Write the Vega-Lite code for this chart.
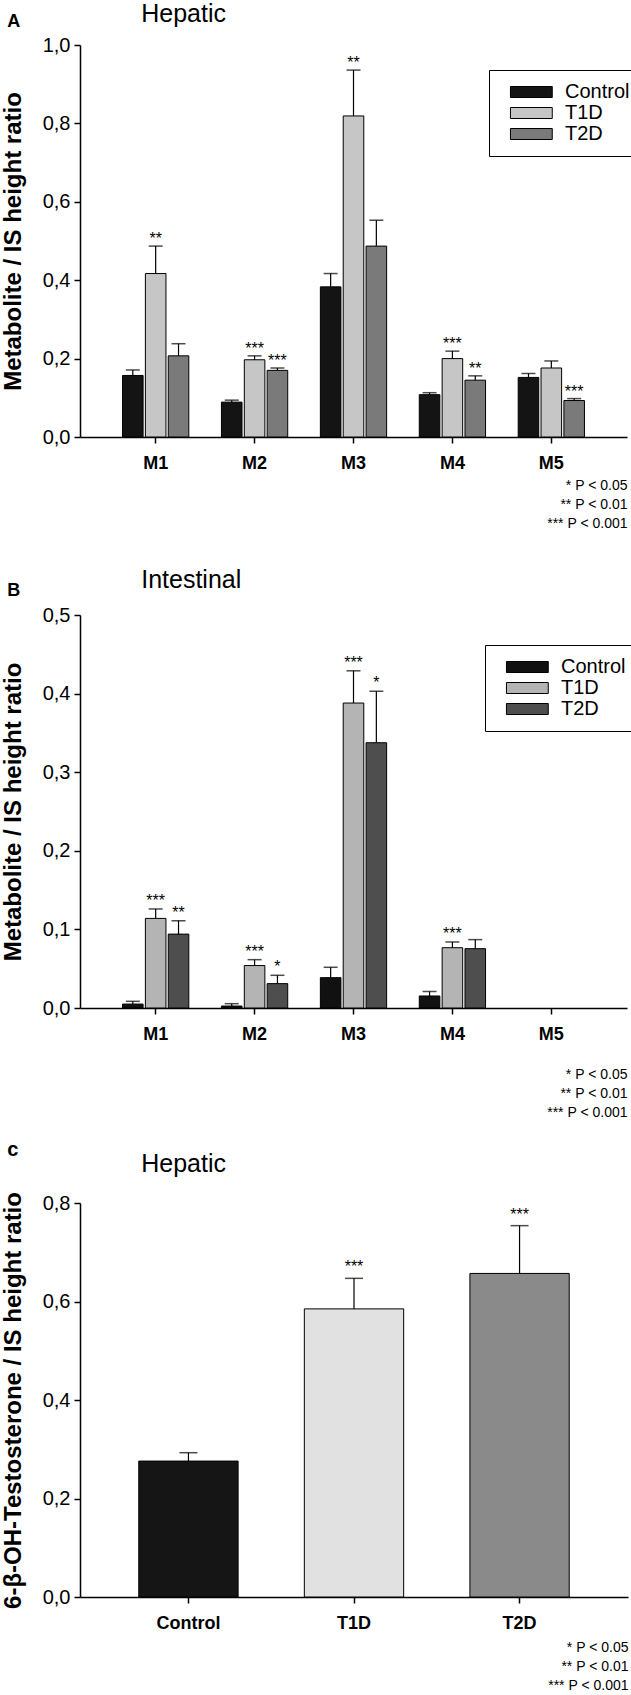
{
  "$schema": "https://vega.github.io/schema/vega-lite/v6.json",
  "background": "white",
  "padding": {"left": 1, "top": 2, "right": 0, "bottom": 0},
  "autosize": {"type": "pad"},
  "spacing": 20,
  "config": {
    "view": {"stroke": null},
    "font": "Liberation Sans",
    "axis": {"domainColor": "black", "domainWidth": 1.5, "tickColor": "black", "tickWidth": 1.5, "tickSize": 6, "labelColor": "black", "titleColor": "black", "grid": false, "labelFont": "Liberation Sans", "titleFont": "Liberation Sans"},
    "legend": {"labelFont": "Liberation Sans"},
    "title": {"anchor": "start", "frame": "bounds", "font": "Liberation Sans", "color": "black"}
  },
  "resolve": {"scale": {"x": "independent", "y": "independent", "fill": "independent", "xOffset": "independent"}, "legend": {"fill": "independent"}},
  "vconcat": [
    {
      "spacing": 38,
      "resolve": {"scale": {"x": "independent", "y": "independent", "fill": "independent", "xOffset": "independent"}, "legend": {"fill": "independent"}},
      "vconcat": [
        {
          "title": {"text": "A", "fontSize": 18, "fontWeight": "bold", "offset": -29, "dx": 6},
          "resolve": {"scale": {"x": "independent", "y": "independent", "fill": "independent", "xOffset": "independent"}, "legend": {"fill": "independent"}},
          "vconcat": [
            {
              "width": 547, "height": 392,
              "title": {"text": "Hepatic", "fontSize": 25, "fontWeight": "normal", "dx": 140, "offset": 8},
              "data": {"values": [
                {"metabolite": "M1", "group": "Control", "mean": 0.157, "upper": 0.171, "sig": ""},
                {"metabolite": "M1", "group": "T1D", "mean": 0.417, "upper": 0.487, "sig": "**"},
                {"metabolite": "M1", "group": "T2D", "mean": 0.207, "upper": 0.238, "sig": ""},
                {"metabolite": "M2", "group": "Control", "mean": 0.089, "upper": 0.094, "sig": ""},
                {"metabolite": "M2", "group": "T1D", "mean": 0.197, "upper": 0.207, "sig": "***"},
                {"metabolite": "M2", "group": "T2D", "mean": 0.170, "upper": 0.176, "sig": "***"},
                {"metabolite": "M3", "group": "Control", "mean": 0.383, "upper": 0.417, "sig": ""},
                {"metabolite": "M3", "group": "T1D", "mean": 0.819, "upper": 0.936, "sig": "**"},
                {"metabolite": "M3", "group": "T2D", "mean": 0.487, "upper": 0.553, "sig": ""},
                {"metabolite": "M4", "group": "Control", "mean": 0.108, "upper": 0.113, "sig": ""},
                {"metabolite": "M4", "group": "T1D", "mean": 0.200, "upper": 0.219, "sig": "***"},
                {"metabolite": "M4", "group": "T2D", "mean": 0.145, "upper": 0.156, "sig": "**"},
                {"metabolite": "M5", "group": "Control", "mean": 0.152, "upper": 0.162, "sig": ""},
                {"metabolite": "M5", "group": "T1D", "mean": 0.176, "upper": 0.194, "sig": ""},
                {"metabolite": "M5", "group": "T2D", "mean": 0.093, "upper": 0.098, "sig": "***"}
              ]},
              "encoding": {
                "x": {"field": "metabolite", "type": "nominal", "scale": {"domain": ["M1", "M2", "M3", "M4", "M5"], "paddingInner": 0.33, "paddingOuter": 0.43},
                      "axis": {"labelAngle": 0, "labelFontSize": 18, "labelFontWeight": "bold", "labelPadding": 11,
                               "title": ["* P < 0.05", "** P < 0.01", "*** P < 0.001"], "titleAnchor": "end", "titleAlign": "right", "titleFontSize": 14, "titleFontWeight": "normal", "titleLineHeight": 19, "titlePadding": 6}},
                "xOffset": {"field": "group", "type": "nominal", "scale": {"domain": ["Control", "T1D", "T2D"], "paddingInner": 0.1}},
                "y": {"field": "mean", "type": "quantitative", "scale": {"domain": [0, 1]},
                      "axis": {"values": [0, 0.2, 0.4, 0.6, 0.8, 1.0], "labelExpr": "replace(format(datum.value, '.1f'), '.', ',')", "labelFontSize": 20, "labelPadding": 4, "titleFontSize": 24, "titleFontWeight": "bold", "titlePadding": 17},
                      "title": "Metabolite / IS height ratio"}
              },
              "layer": [
                {"mark": {"type": "bar", "stroke": "black", "strokeWidth": 1},
                 "encoding": {
                   "fill": {"field": "group", "type": "nominal", "scale": {"domain": ["Control", "T1D", "T2D"], "range": ["#141414", "#c6c6c6", "#7a7a7a"]},
                            "legend": {"orient": "none", "legendX": 409, "legendY": 25, "title": null, "symbolType": "M-0.1,-1L7.5,-1L7.5,1L-0.1,1Z", "symbolSize": 121, "symbolStrokeColor": "black", "symbolStrokeWidth": 1, "labelFontSize": 20, "labelColor": "black", "labelOffset": 44, "strokeColor": "black", "padding": 12, "rowPadding": 1}}
                 }},
                {"mark": {"type": "rule", "color": "black", "strokeWidth": 1.2},
                 "encoding": {"y2": {"field": "upper"}}},
                {"mark": {"type": "tick", "color": "black", "thickness": 1.5, "size": 14},
                 "encoding": {"y": {"field": "upper", "type": "quantitative", "title": "Metabolite / IS height ratio"}}},
                {"mark": {"type": "text", "baseline": "alphabetic", "dy": -2, "fontSize": 16, "color": "black"},
                 "encoding": {"y": {"field": "upper", "type": "quantitative", "title": "Metabolite / IS height ratio"}, "text": {"field": "sig"}}}
              ]
            }
          ]
        },
        {
          "title": {"text": "B", "fontSize": 18, "fontWeight": "bold", "offset": -32, "dx": 6},
          "resolve": {"scale": {"x": "independent", "y": "independent", "fill": "independent", "xOffset": "independent"}, "legend": {"fill": "independent"}},
          "vconcat": [
            {
              "width": 547, "height": 393,
              "title": {"text": "Intestinal", "fontSize": 25, "fontWeight": "normal", "dx": 140, "offset": 12},
              "data": {"values": [
                {"metabolite": "M1", "group": "Control", "mean": 0.005, "upper": 0.0085, "sig": ""},
                {"metabolite": "M1", "group": "T1D", "mean": 0.114, "upper": 0.126, "sig": "***"},
                {"metabolite": "M1", "group": "T2D", "mean": 0.094, "upper": 0.111, "sig": "**"},
                {"metabolite": "M2", "group": "Control", "mean": 0.0025, "upper": 0.0055, "sig": ""},
                {"metabolite": "M2", "group": "T1D", "mean": 0.054, "upper": 0.0615, "sig": "***"},
                {"metabolite": "M2", "group": "T2D", "mean": 0.031, "upper": 0.0416, "sig": "*"},
                {"metabolite": "M3", "group": "Control", "mean": 0.0386, "upper": 0.0518, "sig": ""},
                {"metabolite": "M3", "group": "T1D", "mean": 0.388, "upper": 0.429, "sig": "***"},
                {"metabolite": "M3", "group": "T2D", "mean": 0.3375, "upper": 0.403, "sig": "*"},
                {"metabolite": "M4", "group": "Control", "mean": 0.0153, "upper": 0.021, "sig": ""},
                {"metabolite": "M4", "group": "T1D", "mean": 0.0767, "upper": 0.084, "sig": "***"},
                {"metabolite": "M4", "group": "T2D", "mean": 0.0755, "upper": 0.087, "sig": ""}
              ]},
              "encoding": {
                "x": {"field": "metabolite", "type": "nominal", "scale": {"domain": ["M1", "M2", "M3", "M4", "M5"], "paddingInner": 0.33, "paddingOuter": 0.43},
                      "axis": {"labelAngle": 0, "labelFontSize": 18, "labelFontWeight": "bold", "labelPadding": 11,
                               "title": ["* P < 0.05", "** P < 0.01", "*** P < 0.001"], "titleAnchor": "end", "titleAlign": "right", "titleFontSize": 14, "titleFontWeight": "normal", "titleLineHeight": 19, "titlePadding": 24}},
                "xOffset": {"field": "group", "type": "nominal", "scale": {"domain": ["Control", "T1D", "T2D"], "paddingInner": 0.1}},
                "y": {"field": "mean", "type": "quantitative", "scale": {"domain": [0, 0.5]},
                      "axis": {"values": [0, 0.1, 0.2, 0.3, 0.4, 0.5], "labelExpr": "replace(format(datum.value, '.1f'), '.', ',')", "labelFontSize": 20, "labelPadding": 4, "titleFontSize": 24, "titleFontWeight": "bold", "titlePadding": 17},
                      "title": "Metabolite / IS height ratio"}
              },
              "layer": [
                {"mark": {"type": "bar", "stroke": "black", "strokeWidth": 1},
                 "encoding": {
                   "fill": {"field": "group", "type": "nominal", "scale": {"domain": ["Control", "T1D", "T2D"], "range": ["#111111", "#b4b4b4", "#4e4e4e"]},
                            "legend": {"orient": "none", "legendX": 405, "legendY": 30, "title": null, "symbolType": "M-0.1,-1L7.5,-1L7.5,1L-0.1,1Z", "symbolSize": 121, "symbolStrokeColor": "black", "symbolStrokeWidth": 1, "labelFontSize": 20, "labelColor": "black", "labelOffset": 44, "strokeColor": "black", "padding": 12, "rowPadding": 1}}
                 }},
                {"mark": {"type": "rule", "color": "black", "strokeWidth": 1.2},
                 "encoding": {"y2": {"field": "upper"}}},
                {"mark": {"type": "tick", "color": "black", "thickness": 1.5, "size": 14},
                 "encoding": {"y": {"field": "upper", "type": "quantitative", "title": "Metabolite / IS height ratio"}}},
                {"mark": {"type": "text", "baseline": "alphabetic", "dy": -3, "fontSize": 16, "color": "black"},
                 "encoding": {"y": {"field": "upper", "type": "quantitative", "title": "Metabolite / IS height ratio"}, "text": {"field": "sig"}}}
              ]
            }
          ]
        }
      ]
    },
    {
      "title": {"text": "c", "fontSize": 20, "fontWeight": "bold", "offset": -8, "dx": 6},
      "resolve": {"scale": {"x": "independent", "y": "independent", "fill": "independent"}},
      "vconcat": [
        {
          "width": 548, "height": 394,
          "title": {"text": "Hepatic", "fontSize": 25, "fontWeight": "normal", "dx": 140, "offset": 15},
          "data": {"values": [
            {"group": "Control", "mean": 0.276, "upper": 0.293, "sig": ""},
            {"group": "T1D", "mean": 0.585, "upper": 0.647, "sig": "***"},
            {"group": "T2D", "mean": 0.657, "upper": 0.754, "sig": "***"}
          ]},
          "encoding": {
            "x": {"field": "group", "type": "nominal", "scale": {"domain": ["Control", "T1D", "T2D"], "paddingInner": 0.4, "paddingOuter": 0.355},
                  "axis": {"labelAngle": 0, "labelFontSize": 18, "labelFontWeight": "bold", "labelPadding": 11,
                           "title": ["* P < 0.05", "** P < 0.01", "*** P < 0.001"], "titleAnchor": "end", "titleAlign": "right", "titleFontSize": 14, "titleFontWeight": "normal", "titleLineHeight": 19, "titlePadding": 8}},
            "y": {"field": "mean", "type": "quantitative", "scale": {"domain": [0, 0.8]},
                  "axis": {"values": [0, 0.2, 0.4, 0.6, 0.8], "labelExpr": "replace(format(datum.value, '.1f'), '.', ',')", "labelFontSize": 20, "labelPadding": 4, "titleFontSize": 24, "titleFontWeight": "bold", "titlePadding": 17},
                  "title": "6-\u03b2-OH-Testosterone / IS height ratio"}
          },
          "layer": [
            {"mark": {"type": "bar", "stroke": "black", "strokeWidth": 1},
             "encoding": {
               "fill": {"field": "group", "type": "nominal", "scale": {"domain": ["Control", "T1D", "T2D"], "range": ["#151515", "#e1e1e1", "#8a8a8a"]}, "legend": null}
             }},
            {"mark": {"type": "rule", "color": "black", "strokeWidth": 1.2},
             "encoding": {"y2": {"field": "upper"}}},
            {"mark": {"type": "tick", "color": "black", "thickness": 1.5, "size": 18},
             "encoding": {"y": {"field": "upper", "type": "quantitative", "title": "6-\u03b2-OH-Testosterone / IS height ratio"}}},
            {"mark": {"type": "text", "baseline": "alphabetic", "dy": -6, "fontSize": 16, "color": "black"},
             "encoding": {"y": {"field": "upper", "type": "quantitative", "title": "6-\u03b2-OH-Testosterone / IS height ratio"}, "text": {"field": "sig"}}}
          ]
        }
      ]
    }
  ]
}
